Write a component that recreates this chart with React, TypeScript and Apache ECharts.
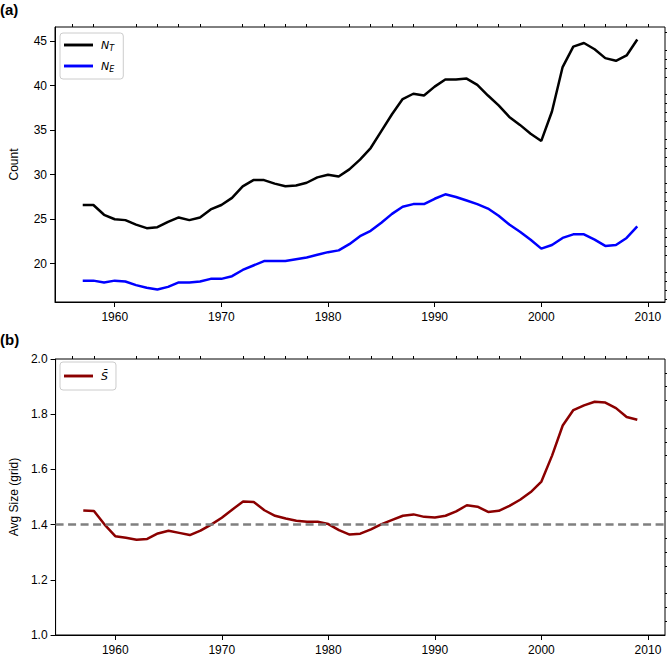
import React, { useEffect, useRef } from "react";
import * as echarts from "echarts";

const years: number[] = [];
for (let y = 1957; y <= 2009; y++) years.push(y);

const nT = [
  26.6, 26.6, 25.5, 25.0, 24.9, 24.4, 24.0, 24.1, 24.7, 25.2,
  24.9, 25.2, 26.1, 26.6, 27.4, 28.7, 29.4, 29.4, 29.0, 28.7,
  28.8, 29.1, 29.7, 30.0, 29.8, 30.6, 31.7, 33.0, 34.9, 36.8,
  38.5, 39.1, 38.9, 39.9, 40.7, 40.7, 40.8, 40.1, 38.9, 37.8,
  36.5, 35.6, 34.6, 33.8, 37.1, 42.1, 44.4, 44.8, 44.1, 43.1,
  42.8, 43.4, 45.2,
];

const nE = [
  18.1, 18.1, 17.9, 18.1, 18.0, 17.6, 17.3, 17.1, 17.4, 17.9,
  17.9, 18.0, 18.3, 18.3, 18.6, 19.3, 19.8, 20.3, 20.3, 20.3,
  20.5, 20.7, 21.0, 21.3, 21.5, 22.2, 23.1, 23.7, 24.6, 25.6,
  26.4, 26.7, 26.7, 27.3, 27.8, 27.5, 27.1, 26.7, 26.2, 25.4,
  24.4, 23.6, 22.7, 21.7, 22.1, 22.9, 23.3, 23.3, 22.7, 22.0,
  22.1, 22.9, 24.2,
];

const sBar = [
  1.451, 1.449, 1.400, 1.358, 1.352, 1.345, 1.348, 1.368, 1.378, 1.370,
  1.362, 1.378, 1.400, 1.425, 1.455, 1.484, 1.482, 1.452, 1.432, 1.422,
  1.414, 1.410, 1.410, 1.402, 1.380, 1.364, 1.367, 1.383, 1.402, 1.417,
  1.432, 1.437, 1.428, 1.426, 1.432, 1.448, 1.470, 1.465, 1.446, 1.450,
  1.468, 1.490, 1.518, 1.556, 1.650, 1.759, 1.815, 1.832, 1.845, 1.842,
  1.822, 1.790, 1.780,
];

const refLine = 1.4;

const xMajor = [1960, 1970, 1980, 1990, 2000, 2010];
const xMinor = [1956, 1958, 1962, 1964, 1966, 1968, 1972, 1974, 1976, 1978, 1982, 1984, 1986, 1988, 1992, 1994, 1996, 1998, 2002, 2004, 2006, 2008, 2010];
const yTopMajor = [20, 25, 30, 35, 40, 45];
const yTopMinor = [16, 17, 18, 19, 21, 22, 23, 24, 26, 27, 28, 29, 31, 32, 33, 34, 36, 37, 38, 39, 41, 42, 43, 44, 46];
const yBotMajor = [1.0, 1.2, 1.4, 1.6, 1.8, 2.0];
const yBotMinor = [1.05, 1.1, 1.15, 1.25, 1.3, 1.35, 1.45, 1.5, 1.55, 1.65, 1.7, 1.75, 1.85, 1.9, 1.95];

const X_MIN = 1954.4;
const X_MAX = 2011.6;
const FONT = "'Liberation Sans', Arial, Helvetica, sans-serif";
const MATH = "'DejaVu Sans', sans-serif";

export default function App() {
  const ref = useRef<HTMLDivElement>(null);

  useEffect(() => {
    if (!ref.current) return;
    const chart = echarts.init(ref.current, null, { renderer: "svg" });

    const grids = [
      { left: 54, right: 2, top: 27, height: 275 },
      { left: 54, right: 2, top: 359, height: 276 },
    ];

    const xMainAxis = (gi: number) => ({
      type: "value",
      gridIndex: gi,
      min: X_MIN,
      max: X_MAX,
      axisLine: { show: true, onZero: false, lineStyle: { color: "#000", width: 1 } },
      axisTick: { show: true, customValues: xMajor, length: 5, lineStyle: { color: "#000", width: 1 } },
      axisLabel: { show: true, customValues: xMajor, margin: 9, fontSize: 12, color: "#000", fontFamily: FONT, formatter: (v: number) => String(Math.round(v)) },
      splitLine: { show: false },
    });
    const xMinorAxis = (gi: number) => ({
      type: "value",
      gridIndex: gi,
      min: X_MIN,
      max: X_MAX,
      axisLine: { show: false, onZero: false },
      axisTick: { show: true, customValues: xMinor, length: 3, lineStyle: { color: "#000", width: 1 } },
      axisLabel: { show: false },
      splitLine: { show: false },
    });

    const yAxisMain = (gi: number, min: number, max: number, major: number[], name: string, fmt: (v: number) => string) => ({
      type: "value",
      gridIndex: gi,
      min,
      max,
      name,
      nameLocation: "middle",
      nameGap: 35,
      nameTextStyle: { fontSize: 12, color: "#000", fontFamily: FONT },
      axisLine: { show: true, onZero: false, lineStyle: { color: "#000", width: 1 } },
      axisTick: { show: true, customValues: major, length: 5, lineStyle: { color: "#000", width: 1 } },
      axisLabel: { show: true, customValues: major, margin: 8, fontSize: 12, color: "#000", fontFamily: FONT, formatter: (v: number) => fmt(v) },
      splitLine: { show: false },
    });
    const yAxisMinor = (gi: number, min: number, max: number, minor: number[]) => ({
      type: "value",
      gridIndex: gi,
      min,
      max,
      axisLine: { show: false, onZero: false },
      axisTick: { show: true, customValues: minor, length: 3, lineStyle: { color: "#000", width: 1 } },
      axisLabel: { show: false },
      splitLine: { show: false },
    });

    const rich = {
      n: { fontFamily: MATH, fontStyle: "italic", fontSize: 11, color: "#000", lineHeight: 14 },
      s: { fontFamily: MATH, fontStyle: "italic", fontSize: 8, color: "#000", padding: [6, 0, 0, 0] },
    };
    const legendFmt = (name: string) => {
      if (name === "NT") return "{n|N}{s|T}";
      if (name === "NE") return "{n|N}{s|E}";
      return "{n|S\u0304}";
    };
    const lineIcon = "path://M0,0 L30,0 L30,3 L0,3 Z";

    const mk = (arr: number[]) => years.map((y, i) => [y, arr[i]]);

    const option = {
      animation: false,
      backgroundColor: "#fff",
      title: [
        { text: "(a)", left: 0, top: 2, padding: 0, textStyle: { fontSize: 15, fontWeight: "bold", color: "#000", fontFamily: FONT } },
        { text: "(b)", left: 0, top: 332, padding: 0, textStyle: { fontSize: 15, fontWeight: "bold", color: "#000", fontFamily: FONT } },
      ],
      grid: grids.map((g) => ({ ...g, show: true, borderColor: "#000", borderWidth: 1, backgroundColor: "transparent" })),
      xAxis: [xMainAxis(0), xMinorAxis(0), xMainAxis(1), xMinorAxis(1)],
      yAxis: [
        yAxisMain(0, 15.7, 46.6, yTopMajor, "Count", (v) => String(Math.round(v))),
        yAxisMinor(0, 15.7, 46.6, yTopMinor),
        yAxisMain(1, 1.0, 2.0, yBotMajor, "Avg Size (grid)", (v) => v.toFixed(1)),
        yAxisMinor(1, 1.0, 2.0, yBotMinor),
      ],
      legend: [
        {
          data: ["NT", "NE"],
          orient: "vertical",
          left: 60,
          top: 33,
          icon: lineIcon,
          itemWidth: 29,
          itemHeight: 3,
          itemGap: 7,
          padding: [5, 9, 6, 4],
          borderColor: "#cccccc",
          borderWidth: 1,
          borderRadius: 3,
          backgroundColor: "rgba(255,255,255,0.8)",
          formatter: legendFmt,
          textStyle: { rich, padding: [0, 0, 0, 3], lineHeight: 14 },
          selectedMode: false,
        },
        {
          data: ["S"],
          orient: "vertical",
          left: 60,
          top: 362,
          icon: lineIcon,
          itemWidth: 29,
          itemHeight: 3,
          padding: [7, 8, 7, 4],
          borderColor: "#cccccc",
          borderWidth: 1,
          borderRadius: 3,
          backgroundColor: "rgba(255,255,255,0.8)",
          formatter: legendFmt,
          textStyle: { rich, padding: [0, 0, 0, 3], lineHeight: 14 },
          selectedMode: false,
        },
      ],
      series: [
        {
          name: "NT",
          type: "line",
          xAxisIndex: 0,
          yAxisIndex: 0,
          data: mk(nT),
          showSymbol: false,
          symbol: "none",
          color: "#000000",
          lineStyle: { color: "#000000", width: 2.5 },
          z: 3,
        },
        {
          name: "NE",
          type: "line",
          xAxisIndex: 0,
          yAxisIndex: 0,
          data: mk(nE),
          showSymbol: false,
          symbol: "none",
          color: "#0000ff",
          lineStyle: { color: "#0000ff", width: 2.5 },
          z: 3,
        },
        {
          name: "S",
          type: "line",
          xAxisIndex: 2,
          yAxisIndex: 2,
          data: mk(sBar),
          showSymbol: false,
          symbol: "none",
          color: "#8b0000",
          lineStyle: { color: "#8b0000", width: 2.5 },
          z: 3,
          markLine: {
            silent: true,
            symbol: "none",
            label: { show: false },
            lineStyle: { color: "#808080", type: [8, 4.5], width: 2.5 },
            data: [{ yAxis: refLine }],
          },
        },
      ],
    };

    chart.setOption(option as any);
    return () => chart.dispose();
  }, []);

  return (
    <div
      ref={ref}
      style={{ position: "fixed", left: 0, top: 0, width: 667, height: 658, background: "#fff" }}
    />
  );
}
